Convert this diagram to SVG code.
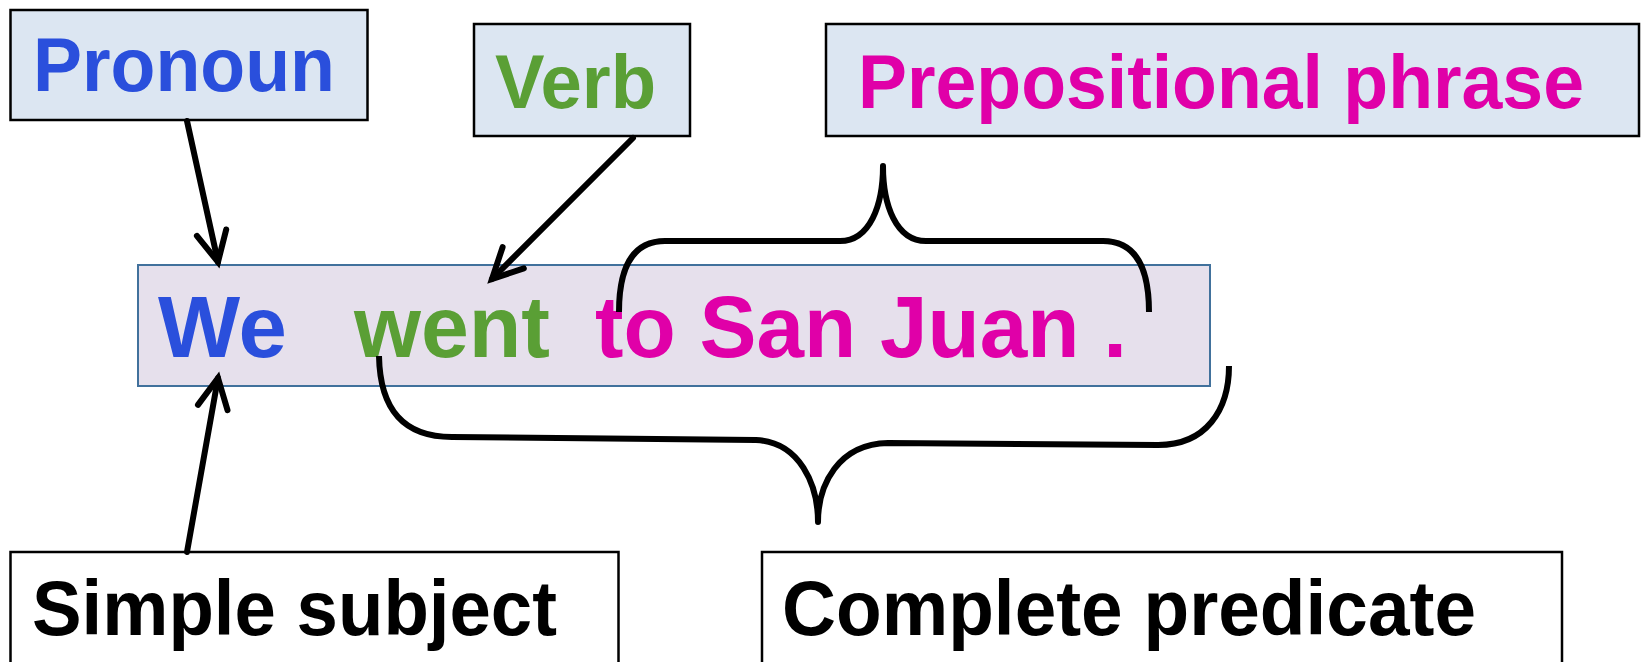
<svg xmlns="http://www.w3.org/2000/svg" width="1642" height="662" viewBox="0 0 1642 662">
<style>
.lbl{fill:#DCE6F2;stroke:#000;stroke-width:2.5}
.wbox{fill:#FFFFFF;stroke:#000;stroke-width:2.5}
.t{font-family:"Liberation Sans",Arial,sans-serif;font-weight:bold}
.blue{fill:#2A4FDC}
.green{fill:#5A9F35}
.pink{fill:#E000A8}
.blk{fill:#000}
.conn{fill:none;stroke:#000;stroke-width:6;stroke-linecap:round}
.brace{fill:none;stroke:#000;stroke-width:6;stroke-linecap:butt;stroke-linejoin:round}
</style>
<defs>
<marker id="ah" markerUnits="userSpaceOnUse" viewBox="-40 -20 50 40" markerWidth="50" markerHeight="40" refX="0" refY="0" orient="auto" overflow="visible">
<path d="M-30,-15 L0,0 L-30,15" fill="none" stroke="#000" stroke-width="6" stroke-linecap="round" stroke-linejoin="miter"/>
</marker>
</defs>
<rect width="1642" height="662" fill="#FFFFFF"/>
<g id="sentence">
<rect x="138" y="265" width="1072" height="121" fill="#E6E0EC" stroke="#41719C" stroke-width="2"/>
<text class="t blue" x="158" y="357" font-size="87" textLength="129" lengthAdjust="spacingAndGlyphs">We</text>
<text class="t green" x="354" y="357" font-size="87" textLength="196" lengthAdjust="spacingAndGlyphs">went</text>
<text class="t pink" x="595" y="357" font-size="87" textLength="532" lengthAdjust="spacingAndGlyphs">to San Juan .</text>
</g>
<g id="pronoun">
<rect class="lbl" x="10.5" y="10" width="357" height="110"/>
<text class="t blue" x="33" y="91" font-size="76" textLength="302" lengthAdjust="spacingAndGlyphs">Pronoun</text>
</g>
<g id="verb">
<rect class="lbl" x="474" y="24" width="216" height="112"/>
<text class="t green" x="495" y="108" font-size="76" textLength="161" lengthAdjust="spacingAndGlyphs">Verb</text>
</g>
<g id="prep">
<rect class="lbl" x="826" y="24" width="813" height="112"/>
<text class="t pink" x="858" y="108" font-size="76" textLength="726" lengthAdjust="spacingAndGlyphs">Prepositional phrase</text>
</g>
<g id="simple-subject">
<rect class="wbox" x="10.5" y="552" width="608" height="130"/>
<text class="t blk" x="32" y="635" font-size="77" textLength="525" lengthAdjust="spacingAndGlyphs">Simple subject</text>
</g>
<g id="complete-predicate">
<rect class="wbox" x="762" y="552" width="800" height="130"/>
<text class="t blk" x="782" y="635" font-size="77" textLength="694" lengthAdjust="spacingAndGlyphs">Complete predicate</text>
</g>
<g id="connectors">
<line class="conn" x1="187" y1="121" x2="218" y2="262" marker-end="url(#ah)"/>
<line class="conn" x1="633" y1="138" x2="492" y2="279" marker-end="url(#ah)"/>
<line class="conn" x1="187" y1="552" x2="218" y2="378" marker-end="url(#ah)"/>
<path class="brace" d="M619,312 C619,268 632,241 665,241 L840,241 C870,241 883,205 883,166 C883,205 896,241 926,241 L1103,241 C1136,241 1149,268 1149,312"/>
<path class="brace" d="M379,356 C380,410 404,437 452,437 L756,440 C800,442 818,485 818,522 C818,485 838,444 888,443 L1158,445 C1206,445 1229,410 1229,366"/>
</g>
</svg>
